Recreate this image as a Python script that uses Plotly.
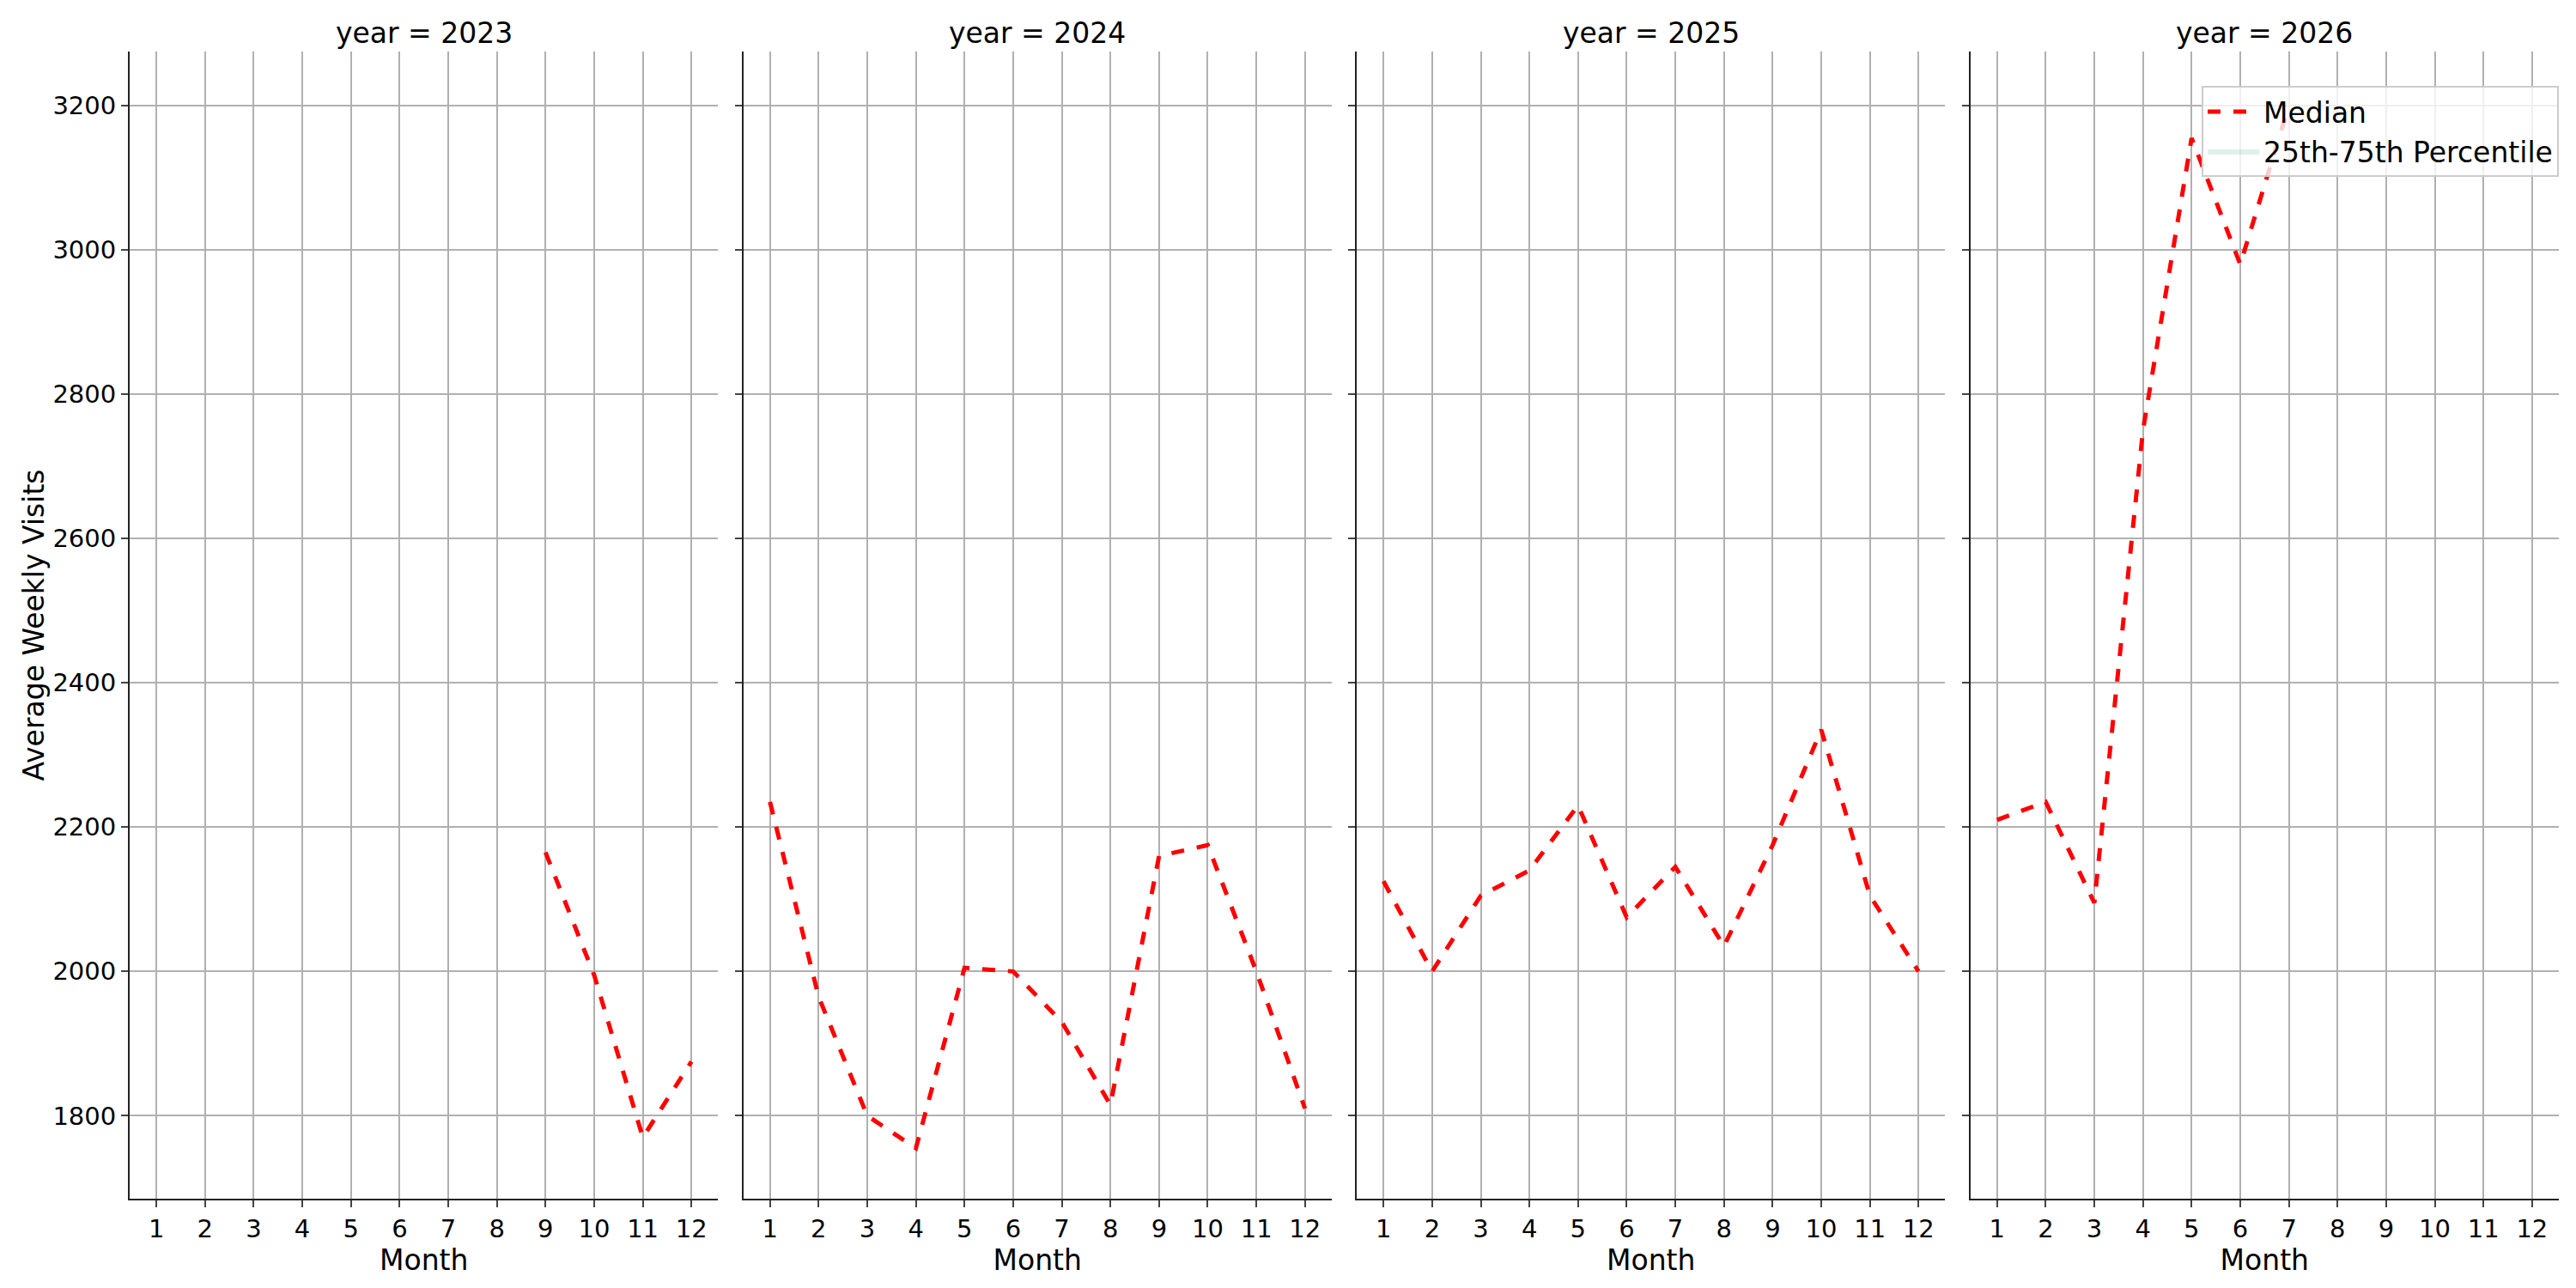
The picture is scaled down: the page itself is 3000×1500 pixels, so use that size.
import plotly.graph_objects as go
from plotly.subplots import make_subplots

years = [2023, 2024, 2025, 2026]
months = {
    2023: [9, 10, 11, 12],
    2024: list(range(1, 13)),
    2025: list(range(1, 13)),
    2026: [1, 2, 3, 4, 5, 6, 7],
}
median = {
    2023: [2165, 1995, 1770, 1875],
    2024: [2235, 1965, 1800, 1755, 2005, 2000, 1930, 1815, 2160, 2175, 2000, 1810],
    2025: [2125, 2000, 2105, 2140, 2230, 2075, 2145, 2035, 2175, 2335, 2105, 2000],
    2026: [2210, 2235, 2095, 2750, 3155, 2980, 3200],
}

font = "DejaVu Sans"
fig = make_subplots(rows=1, cols=4, shared_yaxes=True, horizontal_spacing=0.0103,
                    subplot_titles=[f"year = {y}" for y in years])

for i, y in enumerate(years):
    fig.add_trace(go.Scatter(x=months[y], y=median[y], mode="lines", name="Median",
                             line=dict(color="red", width=5, dash="dash"),
                             showlegend=(i == 3)), row=1, col=i + 1)

# percentile band has no visible area; legend entry only
fig.add_trace(go.Scatter(x=[None], y=[None], fill="toself", mode="lines",
                         line=dict(width=0), fillcolor="rgba(0,150,110,0.13)",
                         name="25th-75th Percentile"), row=1, col=4)

for i in range(4):
    fig.update_xaxes(row=1, col=i + 1, range=[0.45, 12.55], tickvals=list(range(1, 13)),
                     showgrid=True, gridcolor="#b0b0b0", gridwidth=2, zeroline=False,
                     showline=True, linecolor="#222", linewidth=2, ticks="outside",
                     ticklen=8, tickwidth=2, tickfont=dict(size=29),
                     title=dict(text="Month", font=dict(size=33), standoff=8))
    fig.update_yaxes(row=1, col=i + 1, range=[1685, 3275], dtick=200,
                     showgrid=True, gridcolor="#b0b0b0", gridwidth=2, zeroline=False,
                     showline=True, linecolor="#222", linewidth=2, ticks="outside",
                     ticklen=8, tickwidth=2, tickfont=dict(size=29))
fig.update_yaxes(row=1, col=1, title=dict(text="Average Weekly Visits", font=dict(size=33)))

for a in fig.layout.annotations:
    a.font = dict(size=33, family=font, color="black")

fig.update_layout(
    width=3000, height=1500, template="none",
    font=dict(family=font, color="black"),
    plot_bgcolor="white", paper_bgcolor="white",
    margin=dict(l=143, r=28, t=52, b=112),
    legend=dict(x=1.0, y=0.97, xanchor="right", yanchor="top", font=dict(size=33),
                itemwidth=60, tracegroupgap=4,
                bgcolor="rgba(255,255,255,0.8)", bordercolor="#ccc", borderwidth=2),
)

fig.write_html("out.html")
